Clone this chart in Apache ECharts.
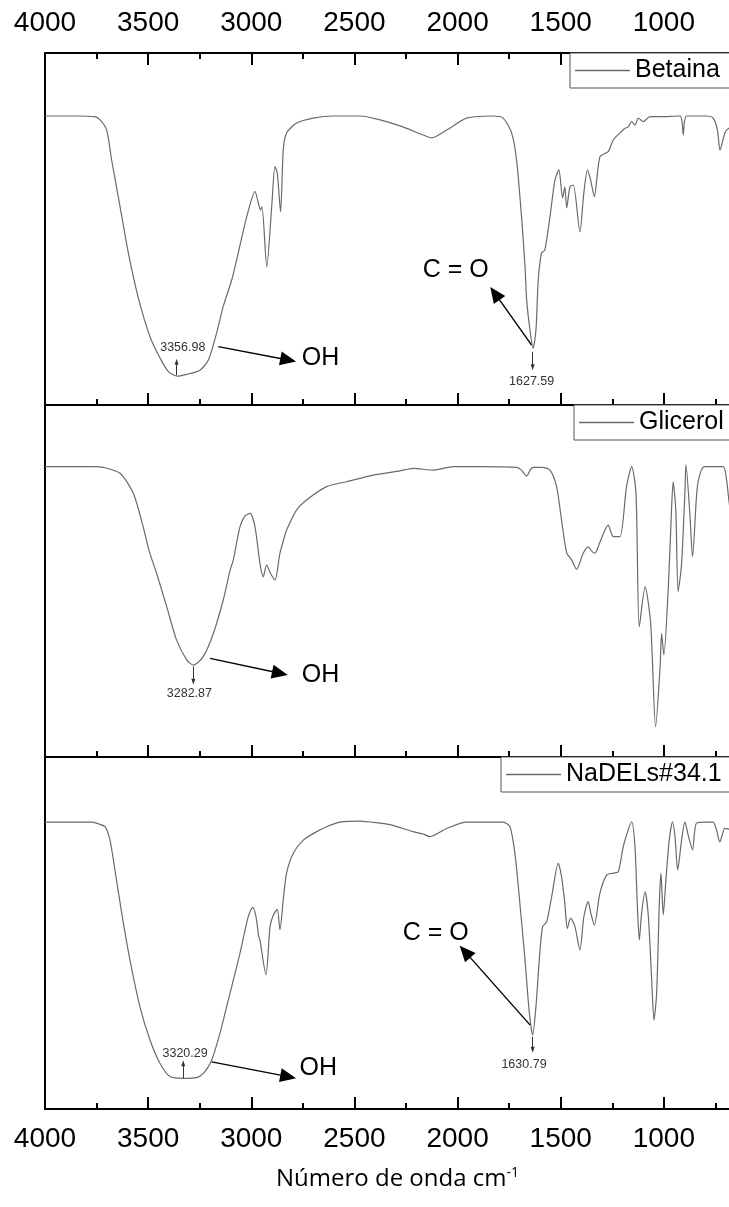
<!DOCTYPE html>
<html><head><meta charset="utf-8">
<script src="https://cdn.jsdelivr.net/npm/echarts@6/dist/echarts.min.js"></script>
<style>
html,body{margin:0;padding:0;overflow:hidden;background:#fff;width:729px;height:1207px}
#c{width:780px;height:1207px}
</style></head>
<body><div id="c"></div>
<script>
// ---- Data (wavenumber cm-1, relative transmittance %) ----
const seriesNames = ['Betaina', 'Glicerol', 'NaDELs#34.1'];

const wnBetaina = [4000,3850,3760,3733,3701,3677,3636,3596,3548,3491,3443,3402,3357,3313,3249,3208,3168,3136,3095,3071,3022,2982,2962,2955,2948,2925,2901,2885,2874,2858,2845,2829,2780,2700,2603,2473,2376,2279,2166,2126,2053,1956,1827,1779,1738,1714,1690,1673,1665,1649,1634,1620,1609,1593,1577,1552,1528,1509,1491,1480,1471,1455,1439,1407,1388,1370,1355,1337,1310,1270,1245,1213,1189,1173,1156,1140,1124,1100,1067,1018,922,912,906,900,890,793,761,740,728,704,685,600,500];
const tBetaina  = [82.1,82.1,81.9,81.0,78.1,69.6,56.3,43.2,30.5,19.4,13.4,9.5,8.2,8.7,9.9,12.8,20.5,28.0,35.5,41.2,53.5,60.6,56.5,55.4,56.3,39.3,56.3,67.7,65.9,54.9,72.4,77.3,80.1,81.5,82.1,82.1,81.0,79.3,76.7,75.9,78.1,81.5,82.1,81.5,77.3,69.6,53.5,39.3,29.8,21.3,16.1,21.3,35.5,43.2,44.0,53.5,63.9,66.8,58.8,62.0,56.0,62.0,62.5,49.2,60.2,66.8,63.9,59.2,70.5,72.0,75.3,77.3,78.6,79.0,80.5,79.5,81.5,80.5,81.9,81.9,82.1,80.5,76.7,80.5,82.1,82.1,81.5,78.0,72.4,77.3,78.6,80.5,81.0];

const wnGlicerol = [4000,3760,3717,3636,3572,3524,3495,3459,3410,3362,3313,3281,3233,3184,3136,3103,3087,3055,3030,3006,2982,2958,2942,2926,2905,2885,2861,2837,2829,2780,2732,2635,2538,2409,2279,2215,2118,2021,1892,1714,1690,1665,1645,1633,1590,1552,1520,1496,1471,1447,1423,1391,1367,1350,1334,1310,1270,1245,1213,1181,1156,1135,1119,1091,1064,1040,1018,1011,1000,979,963,955,942,931,915,898,893,874,861,842,834,818,802,713,696,685,660];
const tGlicerol  = [82.5,82.5,82.3,80.6,74.9,65.4,58.5,52.2,42.7,33.2,27.6,26.1,28.5,35.1,44.6,53.0,56.0,65.4,68.5,69.2,65.4,55.0,51.2,54.5,52.0,50.3,57.9,63.0,64.5,70.2,73.0,76.8,78.2,80.1,81.3,82.0,81.5,82.5,82.5,82.3,81.5,79.8,81.8,82.3,82.3,81.5,76.8,67.3,58.0,56.0,53.3,57.9,59.7,58.5,57.9,61.0,65.9,62.6,62.6,76.8,82.5,74.9,37.0,48.4,38.0,8.6,25.7,35.1,29.0,47.4,70.0,78.2,70.0,47.0,54.1,75.0,83.0,69.2,56.9,73.9,78.2,81.5,82.5,82.5,78.7,73.0,62.0];

const wnNaDELs = [4000,3770,3740,3709,3685,3661,3628,3588,3540,3491,3443,3394,3330,3265,3225,3192,3152,3103,3055,3015,2993,2977,2964,2958,2929,2909,2893,2874,2861,2845,2829,2797,2748,2683,2635,2570,2473,2376,2328,2215,2166,2134,2053,1956,1779,1746,1722,1698,1673,1652,1636,1620,1604,1588,1568,1544,1512,1496,1480,1468,1452,1431,1407,1388,1367,1354,1337,1310,1277,1245,1221,1197,1173,1156,1140,1129,1119,1108,1091,1075,1059,1048,1035,1022,1014,1003,990,974,958,946,933,914,898,882,861,842,793,761,745,729,704,685,650];
const tNaDELs  = [81.5,81.5,81.0,80.2,76.4,67.9,55.6,42.3,29.1,19.6,13.0,9.2,8.7,8.9,10.6,13.9,21.5,32.9,44.2,54.6,57.3,54.6,49.0,48.0,38.1,51.8,55.1,56.7,50.9,59.4,67.0,72.6,76.4,78.8,80.2,81.5,81.8,81.2,80.8,78.8,78.1,77.4,79.7,81.5,81.5,80.2,72.6,58.4,42.3,27.2,21.0,29.1,42.3,51.8,53.2,60.3,69.8,66.0,58.4,51.3,54.2,51.8,45.2,54.6,58.9,55.6,52.3,61.3,66.5,67.0,67.4,74.5,79.3,81.6,74.5,58.4,48.0,55.6,61.7,54.6,36.6,25.3,32.9,58.4,67.0,55.1,65.1,76.4,81.6,77.4,67.9,76.4,81.6,77.8,73.6,81.2,81.5,81.5,79.3,75.9,79.7,79.5,79.0];

// Axis ticks
const xMax = 4000, xMin = 500, xStep = 500;
const xTitle = 'Número de onda cm';
const xTitleSup = '-1';

// Annotations: [text, wavenumber, value]
const labels = [
  [['3356.98',3332,16.3,'s'],['OH',2664,13.3,'b'],['C = O',2009,38.4,'b'],['1627.59',1641,6.6,'s']],
  [['3282.87',3300,18.1,'s'],['OH',2664,23.3,'b']],
  [['3320.29',3321,15.8,'s'],['OH',2675,11.6,'b'],['C = O',2106,50.1,'b'],['1630.79',1678,12.5,'s']]
];
// Arrows: [fromWn, fromV, toWn, toV, kind]
const arrows = [
  [[3362,8.5,3362,12.3,'s'],[3160,16.6,2821,12.8,'b'],[1641,17.0,1819,31.7,'b'],[1636,15.1,1636,10.7,'s']],
  [[3281,25.7,3281,21.4,'s'],[3200,28.0,2861,23.8,'b']],
  [[3330,8.7,3330,13.0,'s'],[3192,13.4,2821,9.2,'b'],[1649,23.9,1964,44.7,'b'],[1636,20.5,1636,16.8,'s']]
];

const data = [
  wnBetaina.map((w,i)=>[w,tBetaina[i]]),
  wnGlicerol.map((w,i)=>[w,tGlicerol[i]]),
  wnNaDELs.map((w,i)=>[w,tNaDELs[i]])
];

const panelTop = [53, 405, 757];
const panelH = 352;
const axisFont = 'Liberation Sans, Arial, sans-serif';

function xAxisDef(i, pos, showLabel){
  return {
    type:'value', gridIndex:i, position:pos, inverse:true,
    min:xMin, max:xMax, interval:xStep,
    axisLine:{show:true, onZero:false, lineStyle:{color:'#000', width:2}},
    axisTick:{show:true, inside:true, length:12, lineStyle:{color:'#000', width:2}},
    minorTick:{show:true, splitNumber:2, length:6, lineStyle:{color:'#000', width:2}},
    splitLine:{show:false}, minorSplitLine:{show:false},
    axisLabel:{show:showLabel, fontSize:28, color:'#000', fontFamily:axisFont, margin:16,
      showMinLabel:false, formatter:v=>String(v)}
  };
}

const grids=[], xAxes=[], yAxes=[], series=[], legends=[];
const legendPos = [[570,53],[574,405],[501,757]];
for(let i=0;i<3;i++){
  grids.push({left:45, top:panelTop[i], width:722, height:panelH});
  xAxes.push(xAxisDef(i,'bottom', i===2));
  yAxes.push({type:'value', gridIndex:i, min:0, max:100,
    axisLine:{show:true, onZero:false, lineStyle:{color:'#000', width:2}},
    axisTick:{show:false}, axisLabel:{show:false}, splitLine:{show:false}});
  const mp = labels[i].map(l=>({
    coord:[l[1],l[2]], symbol:'rect', symbolSize:1, itemStyle:{color:'rgba(0,0,0,0)'},
    label:{show:true, position:'inside', formatter:l[0],
      fontSize: l[3]==='s'?12.5:25, color: l[3]==='s'?'#333':'#000', fontFamily:axisFont}
  }));
  const ml = arrows[i].map(a=>[
    {coord:[a[0],a[1]], symbol:'none',
      lineStyle:{type:'solid', color:a[4]==='s'?'#333':'#000', width:a[4]==='s'?1:1.4}},
    {coord:[a[2],a[3]], symbol:'triangle', symbolSize:a[4]==='s'?[4,6]:[14,16]}
  ]);
  series.push({
    name:seriesNames[i], type:'line', xAxisIndex:i, yAxisIndex:i,
    data:data[i], symbol:'none', smooth:0.25, clip:true,
    lineStyle:{color:'#6a6a6a', width:1.2}, itemStyle:{color:'#6a6a6a'},
    markPoint:{silent:true, animation:false, data:mp},
    markLine:{silent:true, animation:false, symbol:['none','triangle'],
      label:{show:false}, lineStyle:{type:'solid', color:'#000'},
      itemStyle:{color:'#000'}, data:ml}
  });
  legends.push({
    data:[{name:seriesNames[i], icon:'rect'}], left:legendPos[i][0], top:legendPos[i][1],
    orient:'horizontal', itemWidth:55, itemHeight:1.3, selectedMode:false,
    itemStyle:{color:'#6a6a6a', borderWidth:0},
    padding:[5,10,5,5], borderColor:'#555', borderWidth:1, borderRadius:0,
    backgroundColor:'#fff',
    textStyle:{fontSize:25, color:'#000', fontFamily:axisFont}
  });
}
xAxes.push(xAxisDef(0,'top', true));

const chart = echarts.init(document.getElementById('c'), null, {renderer:'canvas'});
chart.setOption({
  animation:false,
  backgroundColor:'#fff',
  grid:grids, xAxis:xAxes, yAxis:yAxes, series:series, legend:legends,
  graphic:[{
    type:'text', left:402-126, top:1166,
    style:{text:'{a|'+xTitle+'}{b|'+xTitleSup+'}',
      rich:{a:{fontSize:24, fontFamily:'Open Sans, Noto Sans, sans-serif', fill:'#000'},
            b:{fontSize:14, fontFamily:'Open Sans, Noto Sans, sans-serif', fill:'#000', verticalAlign:'top', padding:[0,0,12,0]}}}
  }]
});
</script>
</body></html>
